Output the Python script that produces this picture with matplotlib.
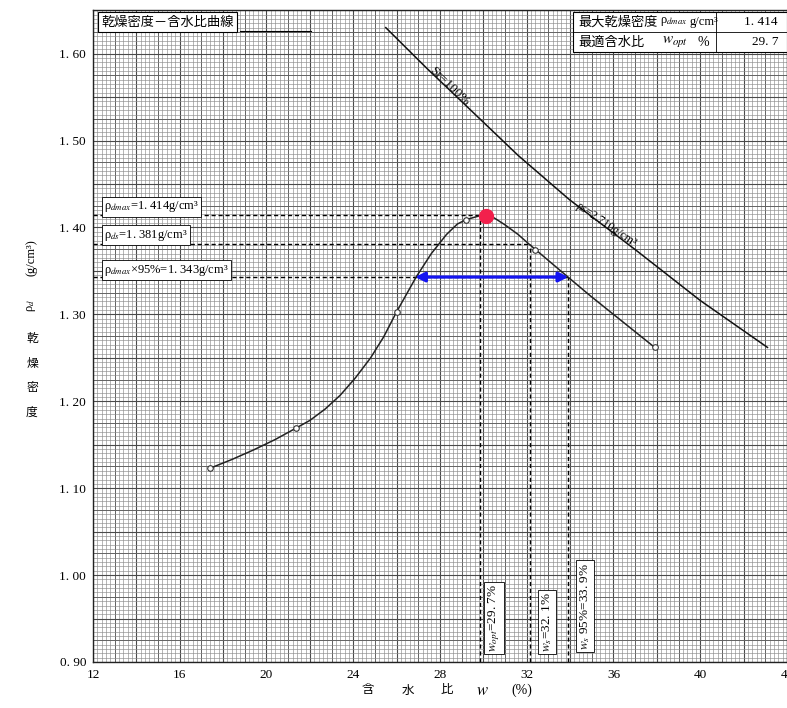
import numpy as np
import matplotlib.pyplot as plt
from matplotlib.patches import Rectangle
from matplotlib.lines import Line2D

plt.rcParams['mathtext.fontset'] = 'stix'

W, H = 787, 708
JP = ['Noto Sans CJK JP', 'DejaVu Sans']
SERIF = ['Liberation Serif', 'DejaVu Serif']

# 測定点 (含水比 %, 乾燥密度 g/cm3)
w_meas = [17.4, 21.35, 26.0, 29.2, 32.4, 37.9]
rho_meas = [1.123, 1.169, 1.303, 1.409, 1.374, 1.262]

# 締固め曲線
w_curve = [17.4, 18.4, 19.4, 20.4, 21.35, 22.0, 22.7, 23.4, 24.1, 24.8, 25.4,
           26.0, 26.9, 27.6, 28.3, 28.8, 29.2, 29.9, 30.5, 31.0, 31.6, 32.1,
           33.0, 33.9, 34.9, 35.9, 36.9, 37.9]
rho_curve = [1.123, 1.133, 1.144, 1.156, 1.169, 1.178, 1.191, 1.207, 1.227, 1.250, 1.274,
             1.303, 1.343, 1.370, 1.392, 1.404, 1.409, 1.414, 1.411, 1.403, 1.392, 1.381,
             1.362, 1.343, 1.322, 1.302, 1.282, 1.262]

# ゼロ空気間隙曲線 Sr=100%
w_sat = [25.5, 27.4, 29.25, 31.6, 33.97, 37.03, 40.0, 43.1]
rho_sat = [1.630, 1.583, 1.539, 1.483, 1.432, 1.374, 1.316, 1.262]

# 最大点・読み取り値
w_peak, rho_peak = 30.1, 1.413
rho_dmax, rho_ds, rho_95 = 1.414, 1.381, 1.343
w_opt_line, w_s_line, w_95_line, w_95_left = 29.85, 32.15, 33.92, 26.85

x_ticks = [12, 16, 20, 24, 28, 32, 36, 40, 44]
y_ticks = [0.90, 1.00, 1.10, 1.20, 1.30, 1.40, 1.50, 1.60]


def fx(px):
    return px / W


def fy(py):
    return 1 - py / H


fig = plt.figure(figsize=(W / 100, H / 100), dpi=100)
ax = fig.add_axes([fx(93), fy(662), fx(787 - 93), (662 - 10) / H])
xmax = 12 + (787 - 93) / 21.85
ymax = 0.9 + 652 / 869
ax.set_xlim(12, xmax)
ax.set_ylim(0.9, ymax)

# 方眼紙
for xv in np.arange(12, 44.01, 0.2):
    k = int(round(xv * 5))
    if k % 10 == 0:
        c, lw = '#4a4a4a', 0.8
    elif k % 5 == 0:
        c, lw = '#626262', 0.7
    else:
        c, lw = '#8c8c8c', 0.45
    ax.axvline(xv, color=c, lw=lw, zorder=0)
for yv in np.arange(0.9, 1.6601, 0.005):
    k = int(round(yv * 200))
    if k % 10 == 0:
        c, lw = '#4a4a4a', 0.8
    elif k % 5 == 0:
        c, lw = '#626262', 0.7
    else:
        c, lw = '#8c8c8c', 0.45
    ax.axhline(yv, color=c, lw=lw, zorder=0)

# 曲線
ax.plot(w_curve, rho_curve, color='#222222', lw=1.1, zorder=3)
ax.plot(w_meas, rho_meas, 'o', ms=4, mfc='white', mec='#333333', mew=0.8, zorder=4)
ax.plot(w_sat, rho_sat, color='#111111', lw=1.1, zorder=3)

# 補助線
dash = dict(color='black', lw=1.0, ls=(0, (3, 2)), zorder=2)
ax.plot([12, w_opt_line], [rho_dmax, rho_dmax], **dash)
ax.plot([12, w_s_line], [rho_ds, rho_ds], **dash)
ax.plot([12, w_95_line], [rho_95, rho_95], **dash)
ax.plot([w_opt_line, w_opt_line], [0.9, rho_dmax], **dash)
ax.plot([w_s_line, w_s_line], [0.9, rho_ds], **dash)
ax.plot([w_95_line, w_95_line], [0.9, rho_95], **dash)

ax.annotate('', xy=(w_95_line, rho_95), xytext=(w_95_left, rho_95),
            arrowprops=dict(arrowstyle='<|-|>', color='#1414f0', lw=2.3,
                            mutation_scale=14, shrinkA=0, shrinkB=0), zorder=5)
ax.plot([w_peak], [rho_peak], 'o', ms=10, color='#f2204c', zorder=6)

ax.text(28.43, 1.562, 'Sr=100%', rotation=-44, ha='center', va='center',
        fontsize=9.5, family=SERIF, zorder=5)
ax.text(35.66, 1.403, 'ρs=2.710g/cm³', rotation=-34, ha='center', va='center',
        fontsize=8.5, family=SERIF, zorder=5)

# 軸
ax.set_xticks(x_ticks)
ax.set_xticklabels([str(v) for v in x_ticks], family=SERIF, fontsize=9.5)
ax.set_yticks(y_ticks)
ax.set_yticklabels([f'{v:.2f}'.replace('.', '. ') for v in y_ticks], family=SERIF, fontsize=9.5)
ax.tick_params(length=0, pad=5)
for s in ax.spines.values():
    s.set_linewidth(1.0)
    s.set_color('#222222')

box = dict(boxstyle='square,pad=0.18', fc='white', ec='black', lw=0.6)

# タイトル
fig.text(fx(101), fy(22), '乾燥密度－含水比曲線', family=JP, fontsize=9.5,
         ha='left', va='center', bbox=dict(boxstyle='square,pad=0.25', fc='white', ec='black', lw=0.8))
fig.add_artist(Line2D([fx(240), fx(311)], [fy(31), fy(31)], color='black', lw=0.8))

# 左側ラベル
fig.text(fx(104), fy(207), 'ρ$_{dmax}$=1. 414g/cm³', family=SERIF, fontsize=9,
         ha='left', va='center', bbox=box)
fig.text(fx(104), fy(235), 'ρ$_{ds}$=1. 381g/cm³', family=SERIF, fontsize=9,
         ha='left', va='center', bbox=box)
fig.text(fx(104), fy(270), 'ρ$_{dmax}$×95%=1. 343g/cm³', family=SERIF, fontsize=9,
         ha='left', va='center', bbox=box)

# 下側ラベル
fig.text(fx(494), fy(618), '$w_{opt}$=29. 7%', family=SERIF, fontsize=9.5, rotation=90,
         ha='center', va='center', bbox=box)
fig.text(fx(547), fy(622), '$w_s$=32. 1%', family=SERIF, fontsize=9.5, rotation=90,
         ha='center', va='center', bbox=box)
fig.text(fx(585), fy(606), '$w_s$ 95%=33. 9%', family=SERIF, fontsize=9.5, rotation=90,
         ha='center', va='center', bbox=box)

# 右上の表
fig.add_artist(Rectangle((fx(573), fy(52)), fx(787 - 573), (52 - 12) / H,
                         transform=fig.transFigure, fc='white', ec='black', lw=0.8, zorder=5))
fig.add_artist(Line2D([fx(573), fx(787)], [fy(32), fy(32)], color='black', lw=0.6, zorder=6))
fig.add_artist(Line2D([fx(716), fx(716)], [fy(12), fy(52)], color='black', lw=0.6, zorder=6))
fig.text(fx(578), fy(22), '最大乾燥密度', family=JP, fontsize=9.5, ha='left', va='center', zorder=7)
fig.text(fx(660), fy(22), 'ρ$_{dmax}$', family=SERIF, fontsize=9, ha='left', va='center', zorder=7)
fig.text(fx(690), fy(22), 'g/cm³', family=SERIF, fontsize=9, ha='left', va='center', zorder=7)
fig.text(fx(778), fy(22), '1. 414', family=SERIF, fontsize=9.5, ha='right', va='center', zorder=7)
fig.text(fx(578), fy(42), '最適含水比', family=JP, fontsize=9.5, ha='left', va='center', zorder=7)
fig.text(fx(662), fy(42), '$w_{opt}$', family=SERIF, fontsize=11, ha='left', va='center', zorder=7)
fig.text(fx(697), fy(42), '%', family=SERIF, fontsize=10, ha='left', va='center', zorder=7)
fig.text(fx(778), fy(42), '29. 7', family=SERIF, fontsize=9.5, ha='right', va='center', zorder=7)

# 軸ラベル
for px, ch in [(368, '含'), (408, '水'), (447, '比')]:
    fig.text(fx(px), fy(690), ch, family=JP, fontsize=9, ha='center', va='center')
fig.text(fx(482), fy(690), '$w$', fontsize=12, ha='center', va='center')
fig.text(fx(522), fy(690), '(%)', family=SERIF, fontsize=10, ha='center', va='center')

fig.text(fx(32), fy(258), '(g/cm³)', family=SERIF, fontsize=9, rotation=90, ha='center', va='center')
fig.text(fx(32), fy(305), 'ρ$_d$', family=SERIF, fontsize=9, rotation=90, ha='center', va='center')
for py, ch in [(338, '乾'), (363, '燥'), (387, '密'), (412, '度')]:
    fig.text(fx(32), fy(py), ch, family=JP, fontsize=8.5, ha='center', va='center')

fig.savefig('out.png', dpi=100)
